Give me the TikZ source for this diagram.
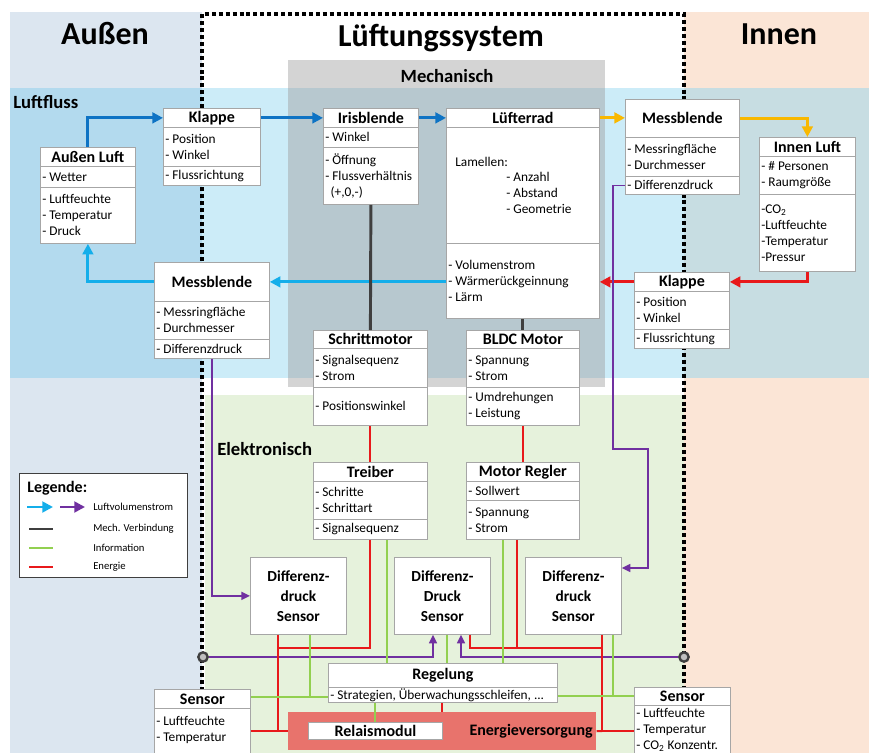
\documentclass[tikz,border=0pt]{standalone}
\usepackage{fontspec}
\setmainfont{Carlito}
\usepackage{tikz}
\usetikzlibrary{arrows.meta,positioning}

\definecolor{caussen}{HTML}{DCE6F0}
\definecolor{cinnen}{HTML}{FBE5D6}
\definecolor{cbandaussen}{HTML}{B3DAEE}
\definecolor{cbandmitte}{HTML}{CCECF8}
\definecolor{cbandinnen}{HTML}{C7DDE2}
\definecolor{cmechgrau}{HTML}{D4D4D4}
\definecolor{cmechband}{HTML}{B7C8CF}
\definecolor{celektro}{HTML}{E6F2DC}
\definecolor{crahmen}{HTML}{A6A6A6}
\definecolor{cblau}{HTML}{0E73C4}
\definecolor{chellblau}{HTML}{14AEEA}
\definecolor{cgelb}{HTML}{F9B800}
\definecolor{crot}{HTML}{E8191B}
\definecolor{clila}{HTML}{7030A0}
\definecolor{cgruen}{HTML}{92D050}
\definecolor{cmech}{HTML}{3F3F3F}
\definecolor{cversorgung}{HTML}{E8736C}

\newcommand{\kopfschrift}{\fontsize{12}{14}\selectfont\bfseries}
\newcommand{\eintragschrift}{\fontsize{10}{12}\selectfont}
\newcommand{\sensorschrift}{\fontsize{11.5}{15}\selectfont\bfseries}
\newcommand{\titelschrift}{\fontsize{24}{28}\selectfont\bfseries}
\newcommand{\bereichschrift}{\fontsize{14}{16}\selectfont\bfseries}
\newcommand{\legschrift}{\fontsize{8}{10}\selectfont}

% Abschnitt eines Kastens mit linksbuendigem Text
\newcommand{\abschnitt}[3]{\node[feld, ecke=#2] (#1) {};
  \node[eintrag] (#1-t) at (#1.west) {#3};}

\tikzset{
  ecke/.style n args={4}{anchor=north west, at={(#1,#2)},
    minimum width={(#3-#1)*0.75pt}, minimum height={(#4-#2)*0.75pt}},
  feld/.style={draw=crahmen, fill=white, inner sep=0pt, line width=0.6pt},
  kopffeld/.style={feld, font=\kopfschrift},
  sensorfeld/.style={feld, font=\sensorschrift, align=center},
  eintrag/.style={font=\eintragschrift, align=left, anchor=west, inner xsep=1.5pt, inner ysep=0pt},
  titel/.style={font=\titelschrift, anchor=base, inner sep=0pt},
  bereich/.style={font=\bereichschrift, anchor=base west, inner sep=0pt},
  legtext/.style={font=\legschrift, anchor=west, inner sep=0pt},
  grenze/.style={draw=black, line width=2.4pt, dash pattern=on 3pt off 2.2pt},
  durchgang/.style={circle, draw=cmech, line width=1.8pt, fill=gray!50, inner sep=0pt, minimum size=7pt},
  pfeilblau/.style={draw=cblau, line width=2.2pt, -{Triangle[length=8pt,width=8pt]}},
  pfeilhell/.style={draw=chellblau, line width=2.2pt, -{Triangle[length=8pt,width=8pt]}},
  pfeilgelb/.style={draw=cgelb, line width=2.2pt, -{Triangle[length=8pt,width=8pt]}},
  pfeilrot/.style={draw=crot, line width=2.2pt, -{Triangle[length=8pt,width=8pt]}},
  pfeillila/.style={draw=clila, line width=1.2pt, -{Triangle[length=6.5pt,width=6pt]}},
  mechverb/.style={draw=cmech, line width=2.2pt},
  energieltg/.style={draw=crot, line width=1.5pt},
  infoltg/.style={draw=cgruen, line width=1.4pt},
}

\begin{document}
\begin{tikzpicture}[x=0.75pt, y=-0.75pt]
\useasboundingbox (0,0) rectangle (869,753);
\clip (0,0) rectangle (869,753);

% Bereiche
\fill[caussen] (10,12) rectangle (202,753);
\fill[cinnen] (684,12) rectangle (869,753);
\fill[cbandaussen] (10,88) rectangle (202,378);
\fill[cbandmitte] (202,88) rectangle (684,378);
\fill[cbandinnen] (684,88) rectangle (869,378);
\fill[celektro] (205,395) rectangle (684,753);
\fill[cmechgrau] (288,60) rectangle (605,387);
\fill[cmechband] (288,88) rectangle (605,378);
\draw[grenze] (202,753) -- (202,14) -- (684,14) -- (684,753);

\node[titel] (t-aussen) at (105,45) {Außen};
\node[titel] (t-system) at (441,46) {Lüftungssystem};
\node[titel] (t-innen) at (779,45) {Innen};
\node[bereich] (t-luftfluss) at (13,108) {Luftfluss};
\node[bereich, anchor=base] (t-mech) at (447,82) {Mechanisch};
\node[bereich] (t-elektro) at (217,455) {Elektronisch};

% Luftfluss
\node[kopffeld, ecke={40}{147}{135}{166}] (aussen-k) {Außen Luft};
\abschnitt{aussen-a}{{40}{166}{135}{187}}{- Wetter}
\abschnitt{aussen-b}{{40}{187}{135}{243}}{- Luftfeuchte\\- Temperatur\\- Druck}

\node[kopffeld, ecke={163}{108}{260}{127}] (klappeL-k) {Klappe};
\abschnitt{klappeL-a}{{163}{127}{260}{166}}{- Position\\- Winkel}
\abschnitt{klappeL-b}{{163}{166}{260}{185}}{- Flussrichtung}

\node[kopffeld, ecke={323}{108}{418}{127}] (iris-k) {Irisblende};
\abschnitt{iris-a}{{323}{127}{418}{147}}{- Winkel}
\abschnitt{iris-b}{{323}{147}{418}{204}}{- Öffnung\\- Flussverhältnis\\\hspace*{4pt}(+,0,-)}

\node[kopffeld, ecke={446}{108}{599}{127}] (luefter-k) {Lüfterrad};
\node[feld, ecke={446}{127}{599}{243}] (luefter-a) {};
\node[eintrag] (luefter-a-t) at (453,162) {Lamellen:};
\node[eintrag] (luefter-a-u) at (504,193) {- Anzahl\\- Abstand\\- Geometrie};
\abschnitt{luefter-b}{{446}{243}{599}{318}}{- Volumenstrom\\- Wärmerückgeinnung\\- Lärm}

\node[kopffeld, ecke={625}{99}{739}{137}] (messR-k) {Messblende};
\abschnitt{messR-a}{{625}{137}{739}{176}}{- Messringfläche\\- Durchmesser}
\abschnitt{messR-b}{{625}{176}{739}{194}}{- Differenzdruck}

\node[kopffeld, ecke={759}{137}{855}{156}] (innen-k) {Innen Luft};
\abschnitt{innen-a}{{759}{156}{855}{194}}{- \# Personen\\- Raumgröße}
\abschnitt{innen-b}{{759}{194}{855}{271}}{-CO\textsubscript{2}\\-Luftfeuchte\\-Temperatur\\-Pressur}

\node[kopffeld, ecke={634}{272}{729}{291}] (klappeR-k) {Klappe};
\abschnitt{klappeR-a}{{634}{291}{729}{329}}{- Position\\- Winkel}
\abschnitt{klappeR-b}{{634}{329}{729}{348}}{- Flussrichtung}

\node[kopffeld, ecke={154}{262}{269}{301}] (messL-k) {Messblende};
\abschnitt{messL-a}{{154}{301}{269}{339}}{- Messringfläche\\- Durchmesser}
\abschnitt{messL-b}{{154}{339}{269}{358}}{- Differenzdruck}

% Motoren und Elektronik
\node[kopffeld, ecke={313}{330}{427}{348}] (schritt-k) {Schrittmotor};
\abschnitt{schritt-a}{{313}{348}{427}{387}}{- Signalsequenz\\- Strom}
\abschnitt{schritt-b}{{313}{387}{427}{425}}{- Positionswinkel}

\node[kopffeld, ecke={466}{330}{579}{348}] (bldc-k) {BLDC Motor};
\abschnitt{bldc-a}{{466}{348}{579}{387}}{- Spannung\\- Strom}
\abschnitt{bldc-b}{{466}{387}{579}{425}}{- Umdrehungen\\- Leistung}

\node[kopffeld, ecke={313}{462}{427}{481}] (treiber-k) {Treiber};
\abschnitt{treiber-a}{{313}{481}{427}{519}}{- Schritte\\- Schrittart}
\abschnitt{treiber-b}{{313}{519}{427}{539}}{- Signalsequenz}

\node[kopffeld, ecke={466}{462}{579}{481}] (regler-k) {Motor Regler};
\abschnitt{regler-a}{{466}{481}{579}{500}}{- Sollwert}
\abschnitt{regler-b}{{466}{500}{579}{539}}{- Spannung\\- Strom}

\node[sensorfeld, ecke={250}{557}{346}{634}] (sens1) {Differenz-\\druck\\Sensor};
\node[sensorfeld, ecke={394}{557}{490}{634}] (sens2) {Differenz-\\Druck\\Sensor};
\node[sensorfeld, ecke={525}{557}{621}{634}] (sens3) {Differenz-\\druck\\Sensor};

\node[kopffeld, ecke={328}{663}{557}{687}] (regelung-k) {Regelung};
\abschnitt{regelung-a}{{328}{687}{557}{702}}{- Strategien, Überwachungsschleifen, ...}

\node[fill=cversorgung, inner sep=0pt, ecke={288}{712}{596}{750}] (versorgung) {};
\node[font=\kopfschrift, anchor=east, inner sep=0pt] (versorgung-t) at (593,731) {Energieversorgung};
\node[feld, font=\kopfschrift, ecke={308}{722}{442}{739}] (relais) {Relaismodul};

\node[kopffeld, ecke={154}{689}{250}{708}] (sensL-k) {Sensor};
\node[feld, ecke={154}{708}{250}{770}] (sensL-a) {};
\node[eintrag] (sensL-a-t) at (154,730) {- Luftfeuchte\\- Temperatur};
\node[kopffeld, ecke={634}{687}{730}{705}] (sensR-k) {Sensor};
\node[feld, ecke={634}{705}{730}{770}] (sensR-a) {};
\node[eintrag] (sensR-a-t) at (634,730) {- Luftfeuchte\\- Temperatur\\- CO\textsubscript{2} Konzentr.};

\node[durchgang] (durchL) at (203,657) {};
\node[durchgang] (durchR) at (684,657) {};

% Luftvolumenstrom
\draw[pfeilblau] (aussen-k.north) |- (klappeL-k.west);
\draw[pfeilblau] (klappeL-k.east) -- (iris-k.west);
\draw[pfeilblau] (iris-k.east) -- (luefter-k.west);
\draw[pfeilgelb] (luefter-k.east) -- (luefter-k.east -| messR-k.west);
\draw[pfeilgelb] (messR-k.east) -| (innen-k.north);
\draw[pfeilrot] (innen-b.south) |- (klappeR-k.east);
\draw[pfeilrot] (klappeR-k.west) -- (klappeR-k.west -| luefter-b.east);
\draw[pfeilhell] (luefter-b.west |- messL-k.east) -- (messL-k.east);
\draw[pfeilhell] (messL-k.west) -| (aussen-b.south);
\draw[pfeillila] (messL-b.south) |- (sens1.west);
\draw[pfeillila] (messR-b.west) -| (613,449) -| (648,568) -- (sens3.east |- 0,568);
\draw[pfeillila] (durchL) -| (sens2.south -| 433,0);
\draw[pfeillila] (durchR) -| (sens2.south -| 461,0);

% Mech. Verbindung
\draw[mechverb] (iris-b.south) -- (schritt-k.north);
\draw[mechverb] (luefter-b.south) -- (bldc-k.north);

% Energie
\draw[energieltg] (schritt-b.south) -- (treiber-k.north);
\draw[energieltg] (bldc-b.south) -- (regler-k.north);
\draw[energieltg] (treiber-b.south) |- (278,648);
\draw[energieltg] (sens1.south -| 278,0) -- (278,731);
\draw[energieltg] (sensL-k.east |- 0,731) -- (versorgung.west |- 0,731);
\draw[energieltg] (regler-b.south -| 517,0) -- (517,648);
\draw[energieltg] (sens2.south -| 470,0) |- (602,648);
\draw[energieltg] (sens3.south -| 602,0) |- (sensR-a.west |- 0,731);
\draw[energieltg] (versorgung.east) -- (602,731);
\draw[energieltg] (regelung-a.south -| 442,0) -- (versorgung.north -| 442,0);

% Information
\draw[infoltg] (treiber-b.south -| 387,0) -- (regelung-k.north -| 387,0);
\draw[infoltg] (regler-b.south -| 503,0) -- (regelung-k.north -| 503,0);
\draw[infoltg] (sens2.south -| 447,0) -- (regelung-k.north -| 447,0);
\draw[infoltg] (sens1.south -| 310,0) -- (310,697);
\draw[infoltg] (sensL-k.east |- 0,697) -- (regelung-a.west |- 0,697);
\draw[infoltg] (sens3.south -| 613,0) -- (613,696);
\draw[infoltg] (regelung-a.east |- 0,696) -- (sensR-k.west |- 0,696);
\draw[infoltg] (regelung-a.south -| 375,0) -- (relais.north -| 375,0);

% Legende
\node[draw=cmech, fill=white, line width=0.8pt, inner sep=0pt, ecke={19}{473}{187}{577}] (legende) {};
\node[font=\kopfschrift, anchor=west, inner sep=0pt] (legende-t) at (27,488) {Legende:};
\node[legtext] (leg-luft) at (93,507) {Luftvolumenstrom};
\node[legtext] (leg-mech) at (93,529) {Mech. Verbindung};
\node[legtext] (leg-info) at (93,548) {Information};
\node[legtext] (leg-energie) at (93,567) {Energie};
\draw[pfeilhell] (leg-luft.west) ++(-66,0) -- ++(26,0);
\draw[pfeilblau, draw=clila] (leg-luft.west) ++(-33,0) -- ++(25,0);
\draw[mechverb, line width=1.8pt] (leg-mech.west) ++(-64,0) -- ++(24,0);
\draw[infoltg] (leg-info.west) ++(-64,0) -- ++(24,0);
\draw[energieltg, line width=1.8pt] (leg-energie.west) ++(-64,0) -- ++(24,0);
\end{tikzpicture}
\end{document}
